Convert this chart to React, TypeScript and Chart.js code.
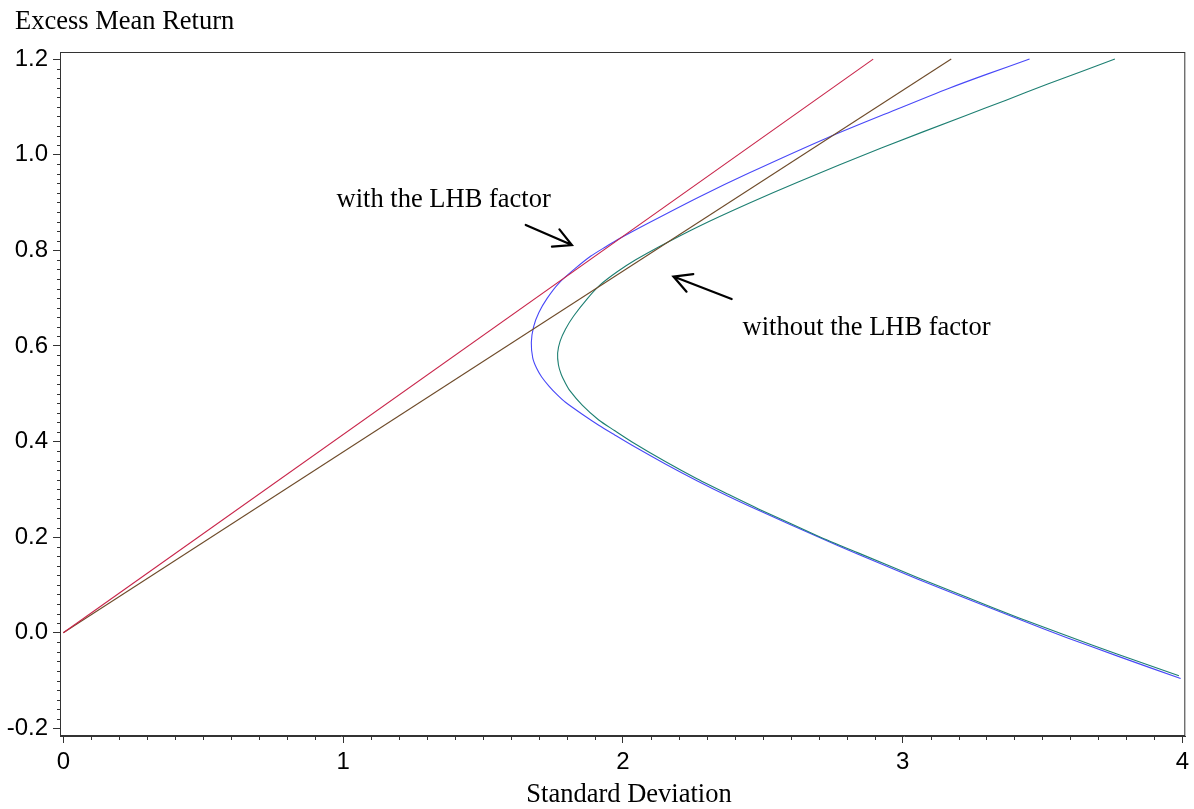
import { useEffect, useRef } from "react";
import { Chart, registerables } from "chart.js";

Chart.register(...registerables);

// ---- data ----
const xTicks = [0, 1, 2, 3, 4];
const yTicks = [-0.2, 0, 0.2, 0.4, 0.6, 0.8, 1.0, 1.2];

// frontier with the LHB factor (blue)
const withX = [3.454, 3.3, 3.162, 2.984, 2.734, 2.449, 2.271, 2.092, 1.99, 1.938, 1.886, 1.83, 1.771, 1.73, 1.7, 1.681, 1.673, 1.678, 1.692, 1.71, 1.736, 1.765, 1.795, 1.855, 1.914, 1.97, 2.033, 2.152, 2.265, 2.375, 2.485, 2.699, 2.841, 3.055, 3.23, 3.412, 3.59, 3.769, 3.994];
const withY = [1.2, 1.168, 1.138, 1.096, 1.036, 0.961, 0.911, 0.857, 0.825, 0.807, 0.788, 0.762, 0.731, 0.7, 0.67, 0.64, 0.607, 0.575, 0.553, 0.535, 0.516, 0.498, 0.482, 0.457, 0.434, 0.414, 0.392, 0.353, 0.318, 0.286, 0.256, 0.2, 0.164, 0.112, 0.071, 0.029, -0.011, -0.049, -0.096];

// frontier without the LHB factor (green)
const withoutX = [3.759, 3.64, 3.519, 3.37, 3.222, 2.924, 2.627, 2.449, 2.271, 2.128, 2.046, 1.98, 1.92, 1.872, 1.825, 1.795, 1.776, 1.767, 1.77, 1.78, 1.795, 1.81, 1.855, 1.914, 1.97, 2.033, 2.152, 2.265, 2.375, 2.485, 2.699, 2.841, 3.055, 3.23, 3.412, 3.59, 3.769, 3.988];
const withoutY = [1.2, 1.174, 1.148, 1.114, 1.081, 1.014, 0.943, 0.898, 0.85, 0.807, 0.78, 0.755, 0.728, 0.698, 0.663, 0.635, 0.61, 0.585, 0.56, 0.54, 0.522, 0.507, 0.476, 0.445, 0.423, 0.399, 0.358, 0.322, 0.29, 0.259, 0.202, 0.167, 0.115, 0.074, 0.032, -0.007, -0.045, -0.09];

// tangency (capital market) lines
const tangentWithX = [0, 2.895];
const tangentWithY = [0, 1.2];
const tangentWithoutX = [0, 3.174];
const tangentWithoutY = [0, 1.2];

// annotations
const noteText = ["with the LHB factor", "without the LHB factor"];
const noteX = [0.977, 2.428];
const noteY = [0.905, 0.637];
const arrowFromX = [1.653, 2.389];
const arrowFromY = [0.853, 0.698];
const arrowToX = [1.818, 2.181];
const arrowToY = [0.811, 0.745];

const xTitle = "Standard Deviation";
const yTitle = "Excess Mean Return";

const SERIF = "'Liberation Serif', 'Times New Roman', serif";
const SANS = "'Liberation Sans', Arial, sans-serif";

function pts(xs: number[], ys: number[]) {
  return xs.map((x, i) => ({ x, y: ys[i] }));
}

const decorPlugin = {
  id: "decor",
  afterDraw(chart: any) {
    const ctx = chart.ctx as CanvasRenderingContext2D;
    const { left, right, top, bottom } = chart.chartArea;
    const xs = chart.scales.x;
    const ys = chart.scales.y;
    ctx.save();
    // frame
    ctx.strokeStyle = "#333";
    ctx.lineWidth = 1;
    ctx.strokeRect(left + 0.5, top + 0.5, right - left - 1, bottom - top - 1);
    // minor ticks
    ctx.beginPath();
    for (let i = 0; i <= 40; i++) {
      if (i % 10 === 0) continue;
      const px = Math.round(xs.getPixelForValue(i / 10)) + 0.5;
      ctx.moveTo(px, bottom);
      ctx.lineTo(px, bottom + 4);
    }
    for (let i = -10; i <= 60; i++) {
      if (i % 10 === 0) continue;
      const py = Math.round(ys.getPixelForValue(i / 50)) + 0.5;
      ctx.moveTo(left - 3, py);
      ctx.lineTo(left, py);
    }
    ctx.stroke();

    // titles
    ctx.fillStyle = "#000";
    ctx.font = `26.5px ${SERIF}`;
    ctx.textBaseline = "alphabetic";
    ctx.textAlign = "left";
    ctx.fillText(yTitle, 15, 28.5);
    ctx.textAlign = "center";
    ctx.fillText(xTitle, 629, 802);

    // notes
    ctx.textAlign = "left";
    ctx.textBaseline = "middle";
    noteText.forEach((t, i) => {
      ctx.fillText(t, xs.getPixelForValue(noteX[i]), ys.getPixelForValue(noteY[i]));
    });

    // arrows
    ctx.strokeStyle = "#000";
    ctx.lineWidth = 2.2;
    ctx.lineCap = "round";
    arrowFromX.forEach((_, i) => {
      const x0 = xs.getPixelForValue(arrowFromX[i]);
      const y0 = ys.getPixelForValue(arrowFromY[i]);
      const x1 = xs.getPixelForValue(arrowToX[i]);
      const y1 = ys.getPixelForValue(arrowToY[i]);
      const ang = Math.atan2(y1 - y0, x1 - x0);
      const L = 20;
      const a = (28 * Math.PI) / 180;
      ctx.beginPath();
      ctx.moveTo(x0, y0);
      ctx.lineTo(x1, y1);
      ctx.moveTo(x1 - L * Math.cos(ang - a), y1 - L * Math.sin(ang - a));
      ctx.lineTo(x1, y1);
      ctx.lineTo(x1 - L * Math.cos(ang + a), y1 - L * Math.sin(ang + a));
      ctx.stroke();
    });
    ctx.restore();
  },
};

export default function App() {
  const ref = useRef<HTMLCanvasElement | null>(null);
  useEffect(() => {
    if (!ref.current) return;
    const lineDs = (label: string, data: any[], color: string, tension: number) => ({
      label,
      data,
      showLine: true,
      borderColor: color,
      backgroundColor: color,
      borderWidth: 1.1,
      pointRadius: 0,
      tension,
      fill: false,
    });
    const chart = new Chart(ref.current, {
      type: "scatter",
      data: {
        datasets: [
          lineDs("tangent with", pts(tangentWithX, tangentWithY), "#C8254A", 0),
          lineDs("tangent without", pts(tangentWithoutX, tangentWithoutY), "#6E4B2A", 0),
          lineDs("without LHB", pts(withoutX, withoutY), "#1D7F72", 0.25),
          lineDs("with LHB", pts(withX, withY), "#4848F8", 0.25),
        ],
      },
      options: {
        animation: false,
        responsive: false,
        layout: { padding: { left: 0, top: 52, right: 6, bottom: 0 } },
        plugins: { legend: { display: false }, tooltip: { enabled: false } },
        scales: {
          x: {
            type: "linear",
            min: -0.0118,
            max: 4.0107,
            afterBuildTicks: (s: any) => {
              s.ticks = xTicks.map((v) => ({ value: v }));
            },
            afterFit: (s: any) => {
              s.height = 73;
            },
            grid: { display: true, drawOnChartArea: false, drawTicks: true, tickLength: 7, color: "#333" },
            border: { display: true, color: "#333", width: 1 },
            ticks: {
              autoSkip: false,
              maxRotation: 0,
              padding: 5,
              color: "#000",
              font: { family: SANS, size: 24 },
              callback: (v: any) => String(v),
            },
          },
          y: {
            type: "linear",
            min: -0.2161,
            max: 1.2148,
            afterBuildTicks: (s: any) => {
              s.ticks = yTicks.map((v) => ({ value: v }));
            },
            afterFit: (s: any) => {
              s.width = 60;
            },
            grid: { display: true, drawOnChartArea: false, drawTicks: true, tickLength: 7, color: "#333" },
            border: { display: true, color: "#333", width: 1 },
            ticks: {
              autoSkip: false,
              padding: 5,
              color: "#000",
              font: { family: SANS, size: 24 },
              callback: (v: any) => Number(v).toFixed(1),
            },
          },
        },
      },
      plugins: [decorPlugin],
    });
    return () => chart.destroy();
  }, []);
  return (
    <div style={{ position: "fixed", left: 0, top: 0, width: 1194, height: 809, background: "#fff" }}>
      <canvas ref={ref} width={1194} height={809} style={{ display: "block" }} />
    </div>
  );
}
